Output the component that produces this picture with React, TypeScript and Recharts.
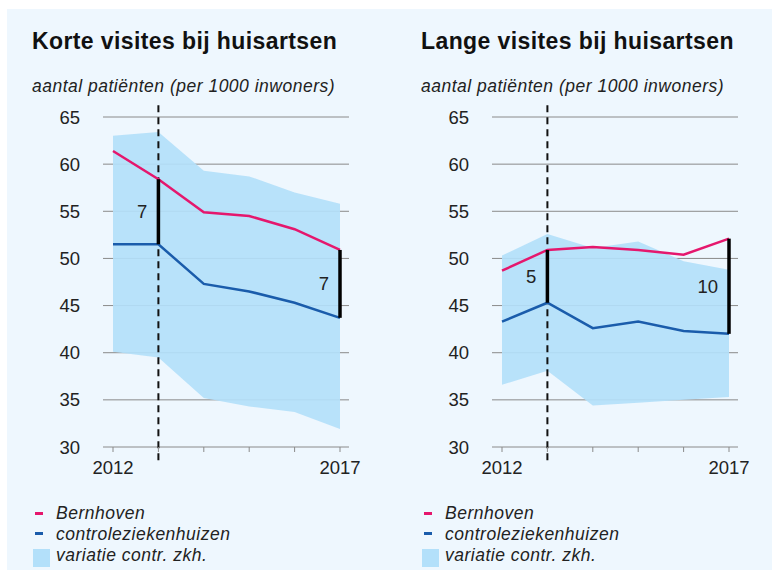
import React from 'react';
import {
  ComposedChart,
  Area,
  Line,
  XAxis,
  YAxis,
  CartesianGrid,
  ReferenceLine,
  ReferenceDot,
} from 'recharts';

const YEARS = [2012, 2013, 2014, 2015, 2016, 2017];
const Y_TICKS = [30, 35, 40, 45, 50, 55, 60, 65];
const X_LABELS = ['2012', '', '', '', '', '2017'];

const KORTE_BERNHOVEN = [61.4, 58.4, 54.9, 54.5, 53.1, 50.9];
const KORTE_CONTROLE = [51.5, 51.5, 47.3, 46.5, 45.3, 43.7];
const KORTE_VAR_HIGH = [63.0, 63.4, 59.3, 58.7, 57.0, 55.8];
const KORTE_VAR_LOW = [40.1, 39.5, 35.2, 34.3, 33.7, 31.9];
const KORTE_GAP_YEARS = [2013, 2017];
const KORTE_GAP_LABELS = ['7', '7'];

const LANGE_BERNHOVEN = [48.7, 50.9, 51.2, 50.9, 50.4, 52.1];
const LANGE_CONTROLE = [43.3, 45.3, 42.6, 43.3, 42.3, 42.0];
const LANGE_VAR_HIGH = [50.3, 52.6, 51.1, 51.8, 49.7, 48.8];
const LANGE_VAR_LOW = [36.6, 38.1, 34.4, 34.7, 35.0, 35.3];
const LANGE_GAP_YEARS = [2013, 2017];
const LANGE_GAP_LABELS = ['5', '10'];

const LEGEND_ITEMS = ['Bernhoven', 'controleziekenhuizen', 'variatie contr. zkh.'];

const START_YEAR = 2013;
const DASH_RANGE = [28.6, 66.3];

const PINK = '#e5176d';
const BLUE = '#1a5cab';
const BAND = '#b3e0fa';
const BG = '#eef7fe';
const FONT = 'Liberation Sans, Arial, Helvetica, sans-serif';

const buildRows = (bern: number[], ctrl: number[], low: number[], high: number[]) =>
  YEARS.map((year, i) => ({
    year,
    bern: bern[i],
    ctrl: ctrl[i],
    band: [low[i], high[i]],
  }));

interface PanelProps {
  left: number;
  title: string;
  bern: number[];
  ctrl: number[];
  low: number[];
  high: number[];
  gapYears: number[];
  gapLabels: string[];
}

const tickStyle = { fill: '#222', fontSize: 18.5, fontFamily: FONT };

const Panel = ({ left, title, bern, ctrl, low, high, gapYears, gapLabels }: PanelProps) => {
  const data = buildRows(bern, ctrl, low, high);

  return (
    <div style={{ position: 'absolute', left, top: 0, width: 380, height: 561 }}>
      <div
        style={{
          position: 'absolute',
          left: 25,
          top: 20.5,
          fontSize: 23,
          lineHeight: '23px',
          fontWeight: 'bold',
          letterSpacing: 0.4,
          color: '#111',
          whiteSpace: 'nowrap',
        }}
      >
        {title}
      </div>
      <div
        style={{
          position: 'absolute',
          left: 25,
          top: 69.2,
          fontSize: 17.5,
          lineHeight: '17.5px',
          fontStyle: 'italic',
          letterSpacing: 0.5,
          color: '#222',
          whiteSpace: 'nowrap',
        }}
      >
        aantal patiënten (per 1000 inwoners)
      </div>

      <ComposedChart
        width={380}
        height={470}
        data={data}
        margin={{ top: 108, right: 38, bottom: 2, left: 0 }}
        style={{ position: 'absolute', left: 0, top: 0 }}
      >
        <Area
          dataKey="band"
          type="linear"
          fill={BAND}
          fillOpacity={0.92}
          stroke="none"
          isAnimationActive={false}
        />
        <CartesianGrid vertical={false} stroke="#8a8a8a" strokeWidth={1} />
        <XAxis
          dataKey="year"
          type="number"
          domain={[2012, 2017]}
          ticks={YEARS}
          padding={{ left: 10, right: 9 }}
          axisLine={false}
          tickLine={{ stroke: '#8a8a8a' }}
          tickSize={5}
          tickMargin={9}
          height={30}
          tickFormatter={(v: number) => X_LABELS[YEARS.indexOf(v)]}
          tick={tickStyle}
        />
        <YAxis
          type="number"
          domain={[30, 65]}
          ticks={Y_TICKS}
          width={96}
          axisLine={false}
          tickLine={false}
          tickSize={0}
          tickMargin={23}
          tick={tickStyle}
        />
        <ReferenceLine
          segment={[
            { x: START_YEAR, y: DASH_RANGE[0] },
            { x: START_YEAR, y: DASH_RANGE[1] },
          ]}
          stroke="#111"
          strokeWidth={2}
          strokeDasharray="7 5"
          ifOverflow="visible"
        />
        <Line
          dataKey="ctrl"
          type="linear"
          stroke={BLUE}
          strokeWidth={2.5}
          dot={false}
          isAnimationActive={false}
        />
        <Line
          dataKey="bern"
          type="linear"
          stroke={PINK}
          strokeWidth={2.5}
          dot={false}
          isAnimationActive={false}
        />
        {gapYears.map((year) => {
          const i = YEARS.indexOf(year);
          return (
            <ReferenceLine
              key={`bar-${year}`}
              segment={[
                { x: year, y: ctrl[i] },
                { x: year, y: bern[i] },
              ]}
              stroke="#000"
              strokeWidth={3.5}
              ifOverflow="visible"
            />
          );
        })}
        {gapYears.map((year, k) => {
          const i = YEARS.indexOf(year);
          return (
            <ReferenceDot
              key={`lbl-${year}`}
              x={year}
              y={(ctrl[i] + bern[i]) / 2}
              r={0}
              fill="none"
              stroke="none"
              ifOverflow="visible"
              label={{
                value: gapLabels[k],
                position: 'left',
                offset: 11,
                fill: '#222',
                fontSize: 18.5,
                fontFamily: FONT,
              }}
            />
          );
        })}
      </ComposedChart>

      <div style={{ position: 'absolute', left: 28, top: 503, width: 8, height: 3, background: PINK }} />
      <div style={{ position: 'absolute', left: 28, top: 523, width: 8, height: 3, background: BLUE }} />
      <div style={{ position: 'absolute', left: 26, top: 540, width: 17, height: 18, background: BAND }} />
      {LEGEND_ITEMS.map((t, i) => (
        <div
          key={t}
          style={{
            position: 'absolute',
            left: 49,
            top: 496.2 + i * 21,
            fontSize: 17.5,
            lineHeight: '17.5px',
            fontStyle: 'italic',
            letterSpacing: 0.5,
            color: '#222',
            whiteSpace: 'nowrap',
          }}
        >
          {t}
        </div>
      ))}
    </div>
  );
};

export default function App() {
  return (
    <div
      style={{
        position: 'absolute',
        left: 7,
        top: 9,
        width: 765,
        height: 561,
        background: BG,
        fontFamily: FONT,
        overflow: 'hidden',
      }}
    >
      <Panel
        left={0}
        title="Korte visites bij huisartsen"
        bern={KORTE_BERNHOVEN}
        ctrl={KORTE_CONTROLE}
        low={KORTE_VAR_LOW}
        high={KORTE_VAR_HIGH}
        gapYears={KORTE_GAP_YEARS}
        gapLabels={KORTE_GAP_LABELS}
      />
      <Panel
        left={389}
        title="Lange visites bij huisartsen"
        bern={LANGE_BERNHOVEN}
        ctrl={LANGE_CONTROLE}
        low={LANGE_VAR_LOW}
        high={LANGE_VAR_HIGH}
        gapYears={LANGE_GAP_YEARS}
        gapLabels={LANGE_GAP_LABELS}
      />
    </div>
  );
}
